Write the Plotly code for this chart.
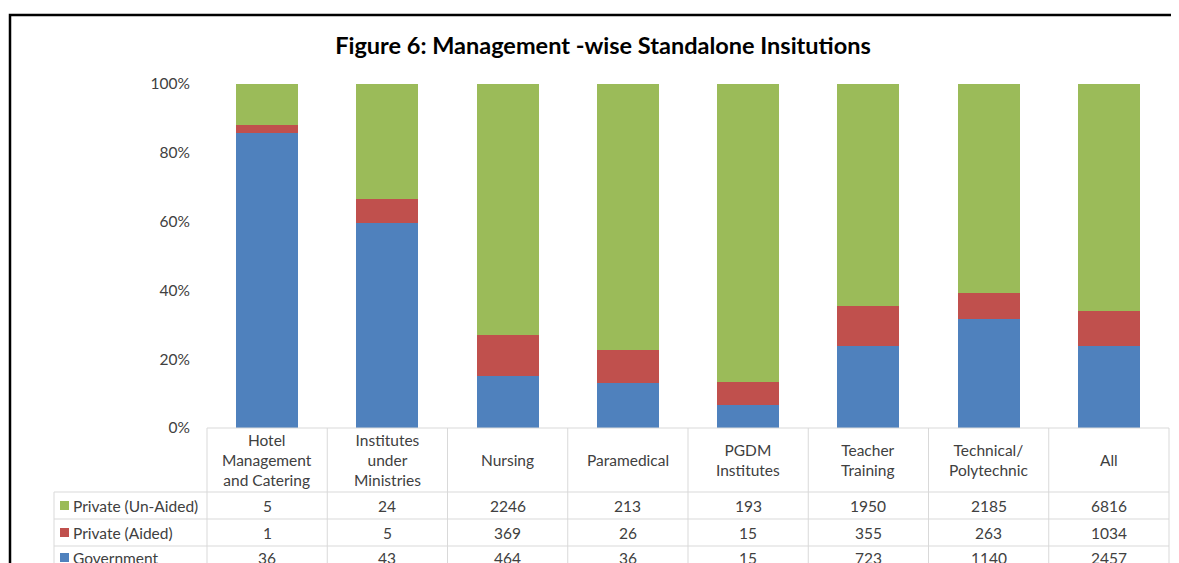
import plotly.graph_objects as go

categories = ["Hotel Management and Catering", "Institutes under Ministries", "Nursing",
              "Paramedical", "PGDM Institutes", "Teacher Training",
              "Technical/ Polytechnic", "All"]
header_labels = ["Hotel<br>Management<br>and Catering", "Institutes<br>under<br>Ministries",
                 "Nursing", "Paramedical", "PGDM<br>Institutes", "Teacher<br>Training",
                 "Technical/<br>Polytechnic", "All"]
series_names = ["Private (Un-Aided)", "Private (Aided)", "Government"]
private_unaided = [5, 24, 2246, 213, 193, 1950, 2185, 6816]
private_aided = [1, 5, 369, 26, 15, 355, 263, 1034]
government = [36, 43, 464, 36, 15, 723, 1140, 2457]
y_ticks = [0, 20, 40, 60, 80, 100]
colors = {"Private (Un-Aided)": "#9BBB59", "Private (Aided)": "#C0504D", "Government": "#4F81BD"}
values = {"Private (Un-Aided)": private_unaided, "Private (Aided)": private_aided,
          "Government": government}

W, H = 1179, 563
OFF = 8  # page body margin
FONT = "Lato"
TXT = "#404040"
GRID = "#D9D9D9"
FS = 15.5


def px(x):
    return (x - OFF) / W


def py(y):
    return (H - (y - OFF)) / H


x_left, x_right = 207, 1169
y_top, y_bot = 84, 428

fig = go.Figure()
for name in ["Government", "Private (Aided)", "Private (Un-Aided)"]:
    fig.add_trace(go.Bar(x=categories, y=values[name], name=name,
                         marker=dict(color=colors[name], line=dict(width=0)),
                         showlegend=False))

shapes = []
annotations = []

# outer frame
shapes.append(dict(type="rect", xref="paper", yref="paper", x0=px(10), x1=px(1250),
                   y0=py(700), y1=py(15), line=dict(color="black", width=2.5)))

# table lines
row_edges = [428, 492, 519, 546, 573]
shapes.append(dict(type="line", xref="paper", yref="paper", x0=px(x_left), x1=px(x_right),
                   y0=py(428), y1=py(428), line=dict(color=GRID, width=1)))
for ye in row_edges[1:]:
    shapes.append(dict(type="line", xref="paper", yref="paper", x0=px(54), x1=px(x_right),
                       y0=py(ye), y1=py(ye), line=dict(color=GRID, width=1)))
ncat = len(categories)
colw = (x_right - x_left) / ncat
for i in range(ncat + 1):
    xv = x_left + i * colw
    shapes.append(dict(type="line", xref="paper", yref="paper", x0=px(xv), x1=px(xv),
                       y0=py(428), y1=py(650), line=dict(color=GRID, width=1)))
shapes.append(dict(type="line", xref="paper", yref="paper", x0=px(54), x1=px(54),
                   y0=py(492), y1=py(650), line=dict(color=GRID, width=1)))

# header
for i, lab in enumerate(header_labels):
    annotations.append(dict(x=categories[i], xref="x", y=py(460), yref="paper",
                            text=lab, showarrow=False, xanchor="center", yanchor="middle",
                            font=dict(family=FONT, size=FS, color=TXT)))

# rows
row_centers = [505.5, 532.5, 557.5]
for r, name in enumerate(series_names):
    yc = row_centers[r]
    shapes.append(dict(type="rect", xref="paper", yref="paper", x0=px(60), x1=px(69),
                       y0=py(yc + 4.5), y1=py(yc - 4.5), fillcolor=colors[name],
                       line=dict(width=0)))
    annotations.append(dict(x=px(71), xref="paper", y=py(yc), yref="paper", text=name,
                            showarrow=False, xanchor="left", yanchor="middle",
                            font=dict(family=FONT, size=FS, color=TXT)))
    for i, v in enumerate(values[name]):
        annotations.append(dict(x=categories[i], xref="x", y=py(yc), yref="paper",
                                text=str(v), showarrow=False, xanchor="center",
                                yanchor="middle",
                                font=dict(family=FONT, size=FS, color=TXT)))

fig.update_layout(
    width=W, height=H,
    margin=dict(l=0, r=0, t=0, b=0, pad=0, autoexpand=False),
    paper_bgcolor="white", plot_bgcolor="white",
    barmode="stack", barnorm="percent", bargap=0.485,
    title=dict(text="<b>Figure 6: Management -wise Standalone Insitutions</b>",
               x=px(603), xanchor="center", y=py(46), yanchor="middle",
               xref="paper", yref="paper",
               font=dict(family=FONT, size=23.5, color="black")),
    xaxis=dict(domain=[px(x_left), px(x_right)], showticklabels=False, showgrid=False,
               zeroline=False, showline=False, ticks="", automargin=False),
    yaxis=dict(domain=[py(y_bot), py(y_top)], range=[0, 100], tickvals=y_ticks,
               ticktext=[f"{t}%" for t in y_ticks], showgrid=False, zeroline=False,
               showline=False, ticks="outside", ticklen=13, tickcolor="rgba(0,0,0,0)",
               automargin=False,
               tickfont=dict(family=FONT, size=FS, color=TXT)),
    shapes=shapes, annotations=annotations,
)

fig.write_html("out.html")
